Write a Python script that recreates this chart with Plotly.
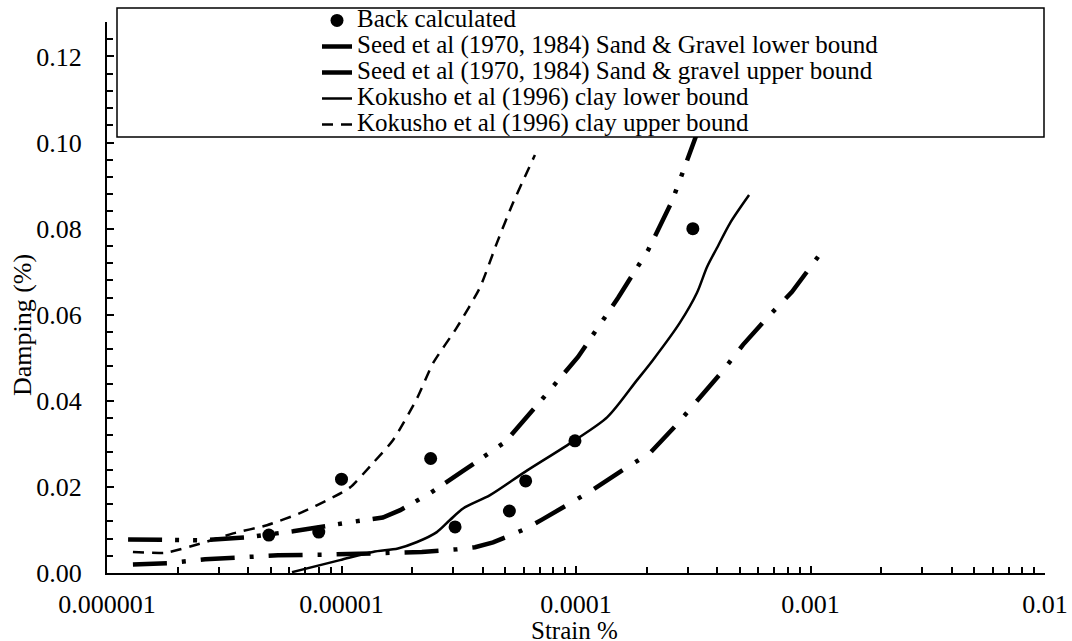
import plotly.graph_objects as go
import numpy as np

FONT = "Liberation Serif, Times New Roman, Tinos, DejaVu Serif, serif"

# ---------------- data ----------------
back_x = [4.9e-6, 8.0e-6, 1.0e-5, 2.4e-5, 3.05e-5, 5.2e-5, 6.1e-5, 9.9e-5, 3.15e-4]
back_y = [0.0088, 0.0095, 0.0218, 0.0266, 0.0107, 0.0144, 0.0214, 0.0307, 0.0800]

seed_lo_x = [1.29e-6, 1.82e-6, 2.62e-6, 3.69e-6, 5.36e-6, 9.1e-6, 1.53e-5, 2.2e-5, 3.11e-5,
             3.71e-5, 4.43e-5, 6.06e-5, 7.16e-5, 8.38e-5, 1.13e-4, 1.54e-4, 2.07e-4, 2.64e-4,
             3.31e-4, 4.19e-4, 5.15e-4, 6.59e-4, 8.34e-4, 1.13e-3]
seed_lo_y = [0.0020, 0.0023, 0.0032, 0.0037, 0.0041, 0.0043, 0.0045, 0.0049, 0.0055,
             0.0060, 0.0071, 0.0102, 0.0124, 0.0146, 0.0187, 0.0235, 0.0279, 0.0340,
             0.0402, 0.0467, 0.0530, 0.0595, 0.0653, 0.0750]

seed_up_x = [1.23e-6, 1.73e-6, 2.54e-6, 3.95e-6, 6.21e-6, 1.09e-5, 1.50e-5, 1.78e-5, 2.38e-5,
             3.30e-5, 4.98e-5, 7.23e-5, 1.02e-4, 1.51e-4, 2.03e-4, 2.57e-4, 3.15e-4, 3.25e-4]
seed_up_y = [0.0078, 0.0077, 0.0076, 0.0083, 0.0097, 0.0118, 0.0129, 0.0146, 0.0185,
             0.0237, 0.0304, 0.0406, 0.0502, 0.0639, 0.0750, 0.0864, 0.0995, 0.1015]

koku_lo_x = [6.15e-6, 9.85e-6, 1.36e-5, 1.74e-5, 2.10e-5, 2.55e-5, 2.90e-5, 3.30e-5, 4.30e-5,
             6.06e-5, 9.8e-5, 1.36e-4, 1.82e-4, 2.13e-4, 2.77e-4, 3.28e-4, 3.62e-4,
             3.99e-4, 4.54e-4, 5.47e-4]
koku_lo_y = [0.0002, 0.0030, 0.0049, 0.0057, 0.0072, 0.0095, 0.0123, 0.0150, 0.0181,
             0.0235, 0.0307, 0.0362, 0.0448, 0.0495, 0.0581, 0.0651, 0.0711,
             0.0755, 0.0813, 0.0878]

koku_up_x = [1.29e-6, 1.77e-6, 2.49e-6, 3.45e-6, 4.81e-6, 6.65e-6, 9.2e-6, 1.09e-5, 1.36e-5,
             1.66e-5, 2.10e-5, 2.46e-5, 3.11e-5, 3.90e-5, 4.60e-5, 5.39e-5, 6.68e-5]
koku_up_y = [0.0049, 0.0047, 0.0068, 0.0092, 0.0111, 0.0139, 0.0176, 0.0199, 0.0255,
             0.0309, 0.0406, 0.0488, 0.0571, 0.0664, 0.0767, 0.0860, 0.0971]

x_tickvals = [1e-6, 1e-5, 1e-4, 1e-3, 1e-2]
x_ticktext = ["0.000001", "0.00001", "0.0001", "0.001", "0.01"]
y_tickvals = [0.00, 0.02, 0.04, 0.06, 0.08, 0.10, 0.12]
y_ticktext = ["0.00", "0.02", "0.04", "0.06", "0.08", "0.10", "0.12"]

names = ["Back calculated",
         "Seed et al (1970, 1984) Sand & Gravel lower bound",
         "Seed et al (1970, 1984) Sand & gravel upper bound",
         "Kokusho et al (1996) clay lower bound",
         "Kokusho et al (1996) clay upper bound"]


def lg(t):
    return '<span style="font-size:25px">' + t + '</span>'


fig = go.Figure()
fig.add_trace(go.Scatter(x=back_x, y=back_y, mode="markers", name=lg(names[0]),
                         marker=dict(color="black", size=13)))
fig.add_trace(go.Scatter(x=seed_lo_x, y=seed_lo_y, mode="lines", name=lg(names[1]),
                         line=dict(color="black", width=4.5, dash="34px,15px,4px,15px")))
fig.add_trace(go.Scatter(x=seed_up_x, y=seed_up_y, mode="lines", name=lg(names[2]),
                         line=dict(color="black", width=4.5,
                                   dash="34px,13px,4px,14px,4px,13px")))
fig.add_trace(go.Scatter(x=koku_lo_x, y=koku_lo_y, mode="lines", name=lg(names[3]),
                         line=dict(color="black", width=2.5, shape="spline", smoothing=0.8)))
fig.add_trace(go.Scatter(x=koku_up_x, y=koku_up_y, mode="lines", name=lg(names[4]),
                         line=dict(color="black", width=2.5, dash="11px,8px",
                                   shape="spline", smoothing=0.6)))

# minor ticks on log axis
minor_x = [m * 10.0 ** e for e in range(-6, -2) for m in range(2, 10)]

fig.update_layout(
    width=1072, height=641,
    margin=dict(l=107, r=27, t=22, b=68, autoexpand=False),
    paper_bgcolor="white", plot_bgcolor="white",
    font=dict(family=FONT, color="black", size=26),
    showlegend=True,
    legend=dict(x=(317 - 107) / 938, y=1.0355, xanchor="left", yanchor="top",
                bgcolor="rgba(0,0,0,0)", borderwidth=0, tracegroupgap=0,
                font=dict(family=FONT, size=17.7, color="black")),
    xaxis=dict(type="log", range=[-6, -2], showgrid=False, zeroline=False,
               showline=True, linecolor="black", linewidth=2,
               ticks="inside", ticklen=7, tickwidth=2, tickcolor="black",
               tickvals=x_tickvals, ticktext=x_ticktext,
               tickfont=dict(family=FONT, size=26, color="black"),
               ticklabelstandoff=7,
               minor=dict(tickvals=minor_x, ticks="inside", ticklen=6,
                          tickwidth=1.5, tickcolor="black", showgrid=False)),
    yaxis=dict(range=[0, 0.128], showgrid=False, zeroline=False,
               showline=True, linecolor="black", linewidth=2,
               ticks="inside", ticklen=7, tickwidth=2, tickcolor="black",
               tickvals=y_tickvals, ticktext=y_ticktext,
               tickfont=dict(family=FONT, size=26, color="black"),
               ticklabelstandoff=18,
               minor=dict(dtick=0.004, tick0=0, ticks="inside", ticklen=6,
                          tickwidth=1.5, tickcolor="black", showgrid=False)),
    shapes=[dict(type="rect", xref="paper", yref="paper",
                 x0=(117 - 107) / 938, x1=(1044 - 107) / 938,
                 y0=(573 - 137) / 551, y1=(573 - 8) / 551,
                 line=dict(color="black", width=1.5), fillcolor="white", layer="above")],
    annotations=[
        dict(text="Damping (%)", textangle=-90, xref="paper", yref="paper",
             x=(22 - 107) / 938, y=0.45, xanchor="center", yanchor="middle",
             showarrow=False, font=dict(family=FONT, size=26, color="black")),
        dict(text="Strain %", xref="paper", yref="paper",
             x=(574 - 107) / 938, y=(573 - 630) / 551, xanchor="center", yanchor="middle",
             showarrow=False, font=dict(family=FONT, size=25, color="black")),
    ],
)

fig.write_html("out.html")
